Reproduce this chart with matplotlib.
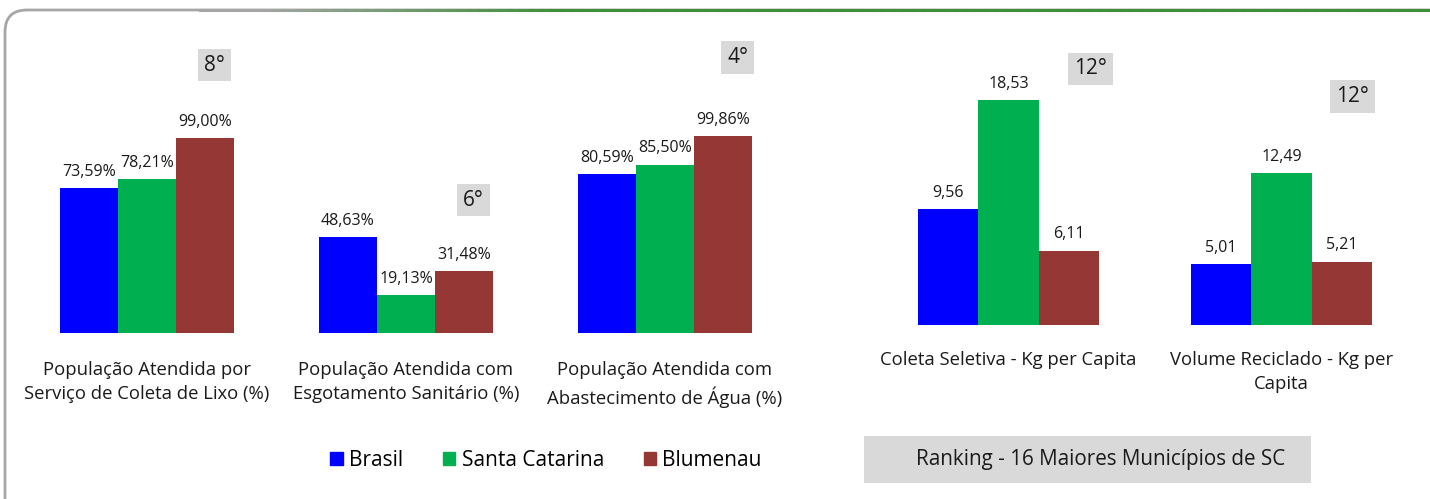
import numpy as np
import matplotlib.pyplot as plt
from matplotlib.patches import FancyBboxPatch, Patch
from matplotlib.collections import LineCollection
from matplotlib.colors import to_rgb

plt.rcParams['font.family'] = ['Open Sans', 'DejaVu Sans']

# dados
series = ['Brasil', 'Santa Catarina', 'Blumenau']
cores = ['#0000FF', '#00B050', '#953735']

cat_pct = ['População Atendida por\nServiço de Coleta de Lixo (%)',
           'População Atendida com\nEsgotamento Sanitário (%)',
           'População Atendida com\nAbastecimento de Água (%)']
brasil_pct = [73.59, 48.63, 80.59]
sc_pct = [78.21, 19.13, 85.50]
blumenau_pct = [99.00, 31.48, 99.86]
ranking_pct = ['8°', '6°', '4°']

cat_kg = ['Coleta Seletiva - Kg per Capita', 'Volume Reciclado - Kg per\nCapita']
brasil_kg = [9.56, 5.01]
sc_kg = [18.53, 12.49]
blumenau_kg = [6.11, 5.21]
ranking_kg = ['12°', '12°']

W, H = 1430, 499
fig = plt.figure(figsize=(W / 100, H / 100), dpi=100)

# moldura
bg = fig.add_axes([0, 0, 1, 1], zorder=-1)
bg.set_xlim(0, W)
bg.set_ylim(H, 0)
bg.axis('off')
bg.add_patch(FancyBboxPatch((5, 10), 1500, 560, boxstyle='round,pad=0,rounding_size=22',
                            fc='white', ec='#a6a6a6', lw=2))
xs = np.linspace(200, W, 120)
segs = [[(xs[i], 10), (xs[i + 1], 10)] for i in range(len(xs) - 1)]
g0, g1 = np.array(to_rgb('#a6a6a6')), np.array(to_rgb('#3f8f3a'))
t = np.clip((xs[:-1] - 250) / 300, 0, 1)[:, None]
bg.add_collection(LineCollection(segs, colors=g0 * (1 - t) + g1 * t, lw=2.2,
                                 capstyle='projecting'))


def fmt(v, suf=''):
    return f'{v:.2f}'.replace('.', ',') + suf


def painel(ax, cats, vals, ranks, rank_pos, width, suf, ymax, pad):
    x = np.arange(len(cats))
    for i, (v, c, nome) in enumerate(zip(vals, cores, series)):
        bars = ax.bar(x + (i - 1) * width, v, width, color=c, label=nome)
        for b, val in zip(bars, v):
            ax.annotate(fmt(val, suf), (b.get_x() + b.get_width() / 2, b.get_height()),
                        xytext=(0, 6), textcoords='offset points', ha='center', va='bottom',
                        fontsize=11.5, color='#1a1a1a')
    for r, (px, py) in zip(ranks, rank_pos):
        ax.text(px, py, r, ha='center', va='center', fontsize=15, color='#1a1a1a',
                bbox=dict(boxstyle='square,pad=0.28', fc='#d9d9d9', ec='none'))
    ax.set_xlim(-0.5, len(cats) - 0.5)
    ax.set_ylim(0, ymax)
    ax.set_xticks(x)
    ax.set_xticklabels(cats, fontsize=13.3, color='#1a1a1a', linespacing=1.45,
                       va='top')
    ax.tick_params(axis='x', length=0, pad=pad)
    ax.set_yticks([])
    for s in ax.spines.values():
        s.set_visible(False)


ax1 = fig.add_axes([17.5 / W, (H - 333) / H, 777 / W, 295.5 / H])
painel(ax1, cat_pct, [brasil_pct, sc_pct, blumenau_pct], ranking_pct,
       [(0.26, 136), (1.26, 67.5), (2.28, 140)], 0.224, '%', 150, 20)

ax2 = fig.add_axes([872 / W, (H - 325) / H, 546 / W, 285 / H])
painel(ax2, cat_kg, [brasil_kg, sc_kg, blumenau_kg], ranking_kg,
       [(0.3, 21.1), (1.26, 18.8)], 0.222, '', 23.475, 18.5)

handles = [Patch(color=c, label=s) for c, s in zip(cores, series)]
fig.legend(handles=handles, loc='center', bbox_to_anchor=(546 / W, 1 - 460 / H), ncol=3,
           frameon=False, fontsize=15, handlelength=0.6, handleheight=0.6,
           handletextpad=0.3, columnspacing=1.9)

bg.add_patch(plt.Rectangle((864, 436), 447, 47, fc='#d9d9d9', ec='none'))
bg.text(1101, 460, 'Ranking - 16 Maiores Municípios de SC', ha='center', va='center',
        fontsize=14.9, color='#1a1a1a')

fig.savefig('out.png', dpi=100)
